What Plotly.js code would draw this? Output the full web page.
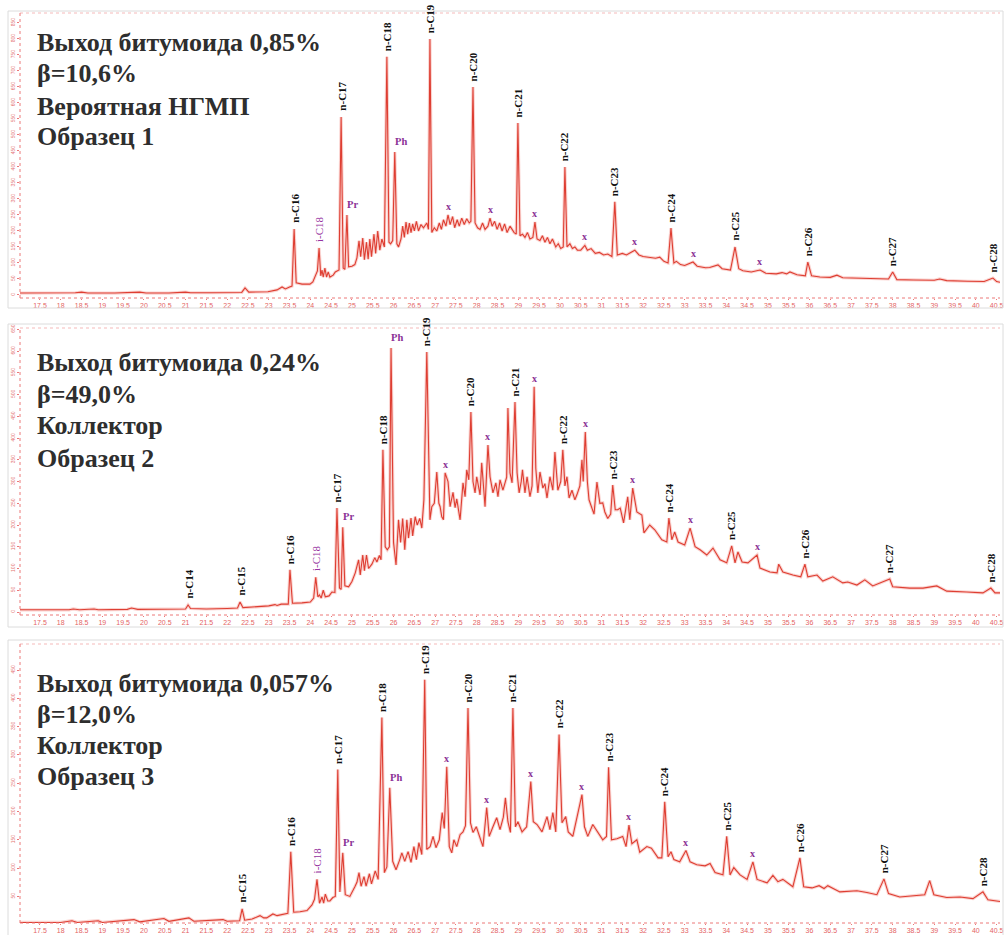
<!DOCTYPE html>
<html><head><meta charset="utf-8">
<script src="https://cdn.plot.ly/plotly-3.0.1.min.js"></script>
<style>body{margin:0;background:#fff}#chart{width:1006px;height:935px}</style>
</head><body><div id="chart"></div>
<script>
// ---------- DATA (retention time, min ; detector signal) ----------
const t1 = [17.02,17.8,18.35,18.5,18.65,19.3,19.9,20.05,20.6,21.0,21.12,21.6,22.0,22.35,22.43,22.52,22.98,23.2,23.32,23.4,23.5,23.56,23.61,23.66,23.8,23.99,24.06,24.11,24.17,24.21,24.25,24.28,24.31,24.35,24.39,24.43,24.47,24.55,24.6,24.69,24.74,24.79,24.83,24.88,24.92,25.0,25.07,25.12,25.17,25.21,25.26,25.3,25.35,25.39,25.43,25.47,25.53,25.57,25.62,25.67,25.72,25.78,25.84,25.89,25.93,25.98,26.03,26.08,26.12,26.18,26.22,26.26,26.3,26.34,26.38,26.42,26.46,26.5,26.55,26.6,26.66,26.72,26.8,26.84,26.875,26.92,26.98,27.04,27.1,27.15,27.2,27.26,27.31,27.36,27.42,27.47,27.53,27.58,27.64,27.7,27.76,27.82,27.86,27.91,27.96,28.02,28.08,28.14,28.2,28.27,28.32,28.37,28.43,28.49,28.55,28.61,28.67,28.73,28.8,28.9,28.95,28.99,29.04,29.1,29.16,29.22,29.28,29.35,29.4,29.45,29.52,29.58,29.64,29.7,29.76,29.82,29.9,29.96,30.02,30.08,30.12,30.17,30.24,30.3,30.36,30.42,30.5,30.6,30.66,30.75,30.85,30.95,31.05,31.15,31.25,31.32,31.38,31.5,31.6,31.8,31.9,32.0,32.1,32.3,32.4,32.5,32.6,32.67,32.74,32.8,32.9,33.0,33.2,33.3,33.5,33.6,33.8,33.9,34.1,34.21,34.3,34.4,34.6,34.81,34.95,35.2,35.34,35.45,35.53,35.7,35.9,35.96,36.05,36.25,36.5,36.66,36.8,37.2,37.6,37.9,38.0,38.1,38.5,39.0,39.13,39.3,39.8,40.2,40.41,40.5,40.58];
const v1 = [6,6,7,9,6,6,9,6,6,9,7,7,8,8,22,9,10,16,25,19,25,28,206,38,34,34,41,56,75,147,60,78,56,84,56,72,56,62,72,78,556,84,80,250,88,90,95,116,169,120,178,110,165,112,175,120,190,130,200,140,175,150,744,165,160,170,447,160,150,175,215,180,228,190,225,195,222,200,230,200,220,210,225,205,800,195,210,200,225,205,235,215,250,220,245,210,235,215,240,220,238,225,230,650,225,210,205,225,205,215,240,215,230,205,225,200,222,195,215,195,190,537,185,190,180,195,175,180,228,175,170,185,165,180,160,175,150,160,145,150,400,150,160,145,150,140,140,155,140,145,130,133,125,128,120,291,125,130,125,140,125,120,118,115,118,105,100,209,100,105,95,92,103,90,85,86,94,82,78,150,82,76,72,78,68,66,70,66,72,63,60,103,60,56,55,62,54,52,51,50,72,48,47,46,50,45,43,42,53,42,40];

const t2 = [17.02,18.2,18.3,18.45,18.8,18.9,19.6,19.7,19.85,20.5,21.0,21.06,21.12,21.5,21.9,22.0,22.25,22.31,22.38,22.6,22.8,23.0,23.15,23.2,23.3,23.4,23.47,23.51,23.57,23.8,24.0,24.08,24.13,24.18,24.22,24.26,24.31,24.36,24.45,24.52,24.59,24.64,24.7,24.74,24.78,24.83,24.92,25.0,25.08,25.16,25.2,25.26,25.3,25.35,25.4,25.48,25.55,25.6,25.66,25.7,25.745,25.8,25.85,25.9,25.94,26.0,26.06,26.12,26.17,26.22,26.27,26.32,26.36,26.42,26.46,26.52,26.57,26.63,26.68,26.73,26.8,26.875,26.92,26.98,27.04,27.09,27.12,27.16,27.2,27.24,27.31,27.36,27.43,27.48,27.52,27.6,27.67,27.72,27.76,27.81,27.86,27.91,27.96,28.0,28.08,28.12,28.17,28.2,28.27,28.32,28.39,28.46,28.51,28.56,28.63,28.68,28.72,28.75,28.8,28.85,28.92,28.97,29.02,29.07,29.1,29.16,29.21,29.28,29.33,29.38,29.42,29.47,29.52,29.59,29.64,29.69,29.76,29.83,29.88,29.95,30.02,30.07,30.12,30.17,30.22,30.29,30.36,30.41,30.48,30.53,30.56,30.61,30.66,30.7,30.75,30.82,30.89,30.96,31.03,31.08,31.15,31.22,31.27,31.33,31.39,31.45,31.53,31.63,31.68,31.75,31.85,31.97,32.02,32.16,32.28,32.45,32.57,32.62,32.69,32.76,32.84,33.0,33.13,33.25,33.37,33.53,33.68,33.85,34.01,34.13,34.21,34.28,34.38,34.52,34.74,34.81,35.05,35.22,35.26,35.36,35.6,35.79,35.89,35.96,36.18,36.32,36.56,36.8,36.92,37.14,37.33,37.52,37.93,38.0,38.41,38.73,39.06,39.3,39.78,40.17,40.36,40.46,40.58];
const v2 = [5,5,7,5,7,5,6,9,6,6,7,16,8,7,9,8,9,23,10,11,12,14,17,15,18,17,18,97,20,21,23,32,80,35,39,32,50,35,37,46,45,239,55,52,195,60,58,70,90,120,85,131,95,131,100,110,125,115,130,120,373,150,143,150,607,160,108,212,160,215,143,212,170,216,175,219,200,215,193,258,598,212,242,250,322,250,242,219,212,320,300,242,275,240,260,212,297,265,327,304,460,300,274,311,269,343,280,242,384,311,274,297,265,304,280,295,310,469,320,297,483,320,274,300,327,274,311,265,290,518,330,274,322,285,295,262,311,280,368,280,300,373,290,311,262,280,258,270,290,350,300,414,300,258,242,225,299,250,251,230,215,225,292,235,235,239,205,265,212,285,230,223,182,200,189,166,161,216,166,184,161,154,193,150,143,131,147,120,113,152,113,138,115,113,131,101,92,90,110,92,85,81,110,81,85,71,81,67,69,62,74,60,76,58,55,55,60,48,46,44,55,44,44];

const t3 = [17.02,18.0,18.27,18.4,18.9,19.0,19.76,19.9,20.48,20.6,21.08,21.2,21.9,22.0,22.3,22.36,22.42,22.6,22.79,22.88,22.95,23.1,23.2,23.34,23.46,23.53,23.6,23.75,23.92,24.04,24.1,24.16,24.22,24.28,24.32,24.36,24.42,24.47,24.54,24.6,24.66,24.71,24.78,24.84,24.95,25.07,25.12,25.17,25.22,25.29,25.34,25.42,25.47,25.56,25.63,25.72,25.78,25.84,25.91,25.98,26.06,26.15,26.2,26.27,26.35,26.42,26.49,26.55,26.61,26.68,26.75,26.8,26.88,26.95,27.02,27.1,27.17,27.22,27.28,27.34,27.4,27.45,27.52,27.6,27.67,27.73,27.79,27.85,27.91,27.99,28.07,28.15,28.24,28.3,28.39,28.48,28.56,28.64,28.69,28.75,28.81,28.87,28.93,28.99,29.09,29.2,29.3,29.36,29.45,29.57,29.69,29.76,29.83,29.9,29.98,30.05,30.14,30.2,30.31,30.43,30.53,30.59,30.67,30.79,30.91,31.03,31.12,31.17,31.24,31.37,31.51,31.59,31.66,31.73,31.85,31.92,32.09,32.2,32.36,32.45,32.52,32.6,32.67,32.74,32.88,33.03,33.13,33.29,33.49,33.61,33.73,33.92,34.01,34.09,34.18,34.33,34.5,34.64,34.74,34.98,35.12,35.24,35.36,35.6,35.77,35.86,36.06,36.23,36.35,36.44,36.73,37.14,37.38,37.62,37.79,37.9,38.17,38.58,38.77,38.89,38.99,39.3,39.62,39.93,40.17,40.29,40.58];
const v3 = [4,4,7,4,7,4,9,5,11,6,12,6,9,6,7,28,8,10,16,12,12,19,16,18,20,129,22,23,25,35,45,80,38,49,38,54,42,42,48,50,274,58,127,53,50,67,75,92,68,85,68,90,72,95,80,366,92,102,242,112,97,115,127,112,129,110,138,115,145,124,433,133,138,156,136,150,198,170,279,138,127,150,138,159,164,175,383,180,163,173,156,138,207,156,173,189,168,190,224,182,163,383,173,182,164,173,253,182,177,164,191,168,198,164,336,180,191,164,156,198,230,173,156,177,163,150,156,278,150,152,156,138,176,143,150,128,138,135,118,118,217,120,129,115,111,131,111,106,104,108,92,88,156,88,101,88,80,111,80,74,87,76,80,67,118,67,65,69,64,69,58,60,57,53,81,55,49,51,53,78,53,48,49,46,58,44,41];

// peak identifications (name, retention time)
const lab1 = ['n-C16','i-C18','n-C17','Pr','n-C18','Ph','n-C19','x','n-C20','x','n-C21','x','n-C22','x','n-C23','x','n-C24','x','n-C25','x','n-C26','n-C27','n-C28'];
const rt1  = [23.61,24.21,24.74,24.88,25.84,26.03,26.875,27.31,27.91,28.32,28.99,29.4,30.12,30.6,31.32,31.8,32.67,33.2,34.21,34.81,35.96,38.0,40.41];
const lab2 = ['n-C14','n-C15','n-C16','i-C18','n-C17','Pr','n-C18','Ph','n-C19','x','n-C20','x','n-C21','x','n-C22','x','n-C23','x','n-C24','x','n-C25','x','n-C26','n-C27','n-C28'];
const rt2  = [21.06,22.31,23.51,24.13,24.64,24.78,25.745,25.94,26.8,27.24,27.86,28.27,28.92,29.38,30.07,30.61,31.27,31.75,32.62,33.13,34.13,34.74,35.89,37.93,40.36];
const lab3 = ['n-C15','n-C16','i-C18','n-C17','Pr','n-C18','Ph','n-C19','x','n-C20','x','n-C21','x','n-C22','x','n-C23','x','n-C24','x','n-C25','x','n-C26','n-C27','n-C28'];
const rt3  = [22.36,23.53,24.16,24.66,24.78,25.72,25.91,26.75,27.28,27.79,28.24,28.87,29.3,29.98,30.53,31.17,31.66,32.52,33.03,34.01,34.64,35.77,37.79,40.17];

const info1 = ['Выход битумоида 0,85%','β=10,6%','Вероятная НГМП','Образец 1'];
const info2 = ['Выход битумоида 0,24%','β=49,0%','Коллектор','Образец 2'];
const info3 = ['Выход битумоида 0,057%','β=12,0%','Коллектор','Образец 3'];

// ---------- LAYOUT ----------
const W = 1006, H = 935;
const px = x => x / W, py = y => 1 - y / H;
const panels = [
  {t:t1, v:v1, lab:lab1, rt:rt1, info:info1, top:13, bot:298, rng:[-9.4,881], box:[8,11,1003,308], lines:[42,74,106,137]},
  {t:t2, v:v2, lab:lab2, rt:rt2, info:info2, top:328, bot:615, rng:[-6.9,653], box:[8,324,1003,627], lines:[362,394,426,458]},
  {t:t3, v:v3, lab:lab3, rt:rt3, info:info3, top:644, bot:923, rng:[3,496], box:[8,640,1003,936], lines:[683,714,745,776]}
];
const xl = 20, xr = 1000;
const axisCol = 'rgb(236,120,120)';
const traces = [], annotations = [], shapes = [];
const layout = {width:W, height:H, margin:{l:0,r:0,t:0,b:0}, showlegend:false,
  paper_bgcolor:'#fff', plot_bgcolor:'rgba(0,0,0,0)', hovermode:false};

function nearest(ts, vs, t){ let b=0; for(let i=1;i<ts.length;i++) if(Math.abs(ts[i]-t)<Math.abs(ts[b]-t)) b=i; return vs[b]; }

panels.forEach((p, i) => {
  const n = i === 0 ? '' : String(i+1);
  const xa = 'x'+n, ya = 'y'+n;
  layout['xaxis'+n] = {domain:[px(xl), px(xr)], range:[17.02,40.58], anchor:ya,
    tick0:17.5, dtick:0.5, showgrid:false, zeroline:false, showline:false,
    ticks:'outside', ticklen:1, tickcolor:axisCol, tickfont:{family:'Liberation Sans', size:7, color:'rgb(228,100,100)'}};
  layout['yaxis'+n] = {domain:[py(p.bot), py(p.top)], range:p.rng, anchor:xa,
    tick0:0, dtick:50, showgrid:false, zeroline:false, showline:false,
    ticks:'outside', ticklen:2, tickcolor:axisCol, tickangle:-90,
    tickfont:{family:'Liberation Sans', size:5, color:'rgb(228,115,115)'}};
  traces.push({x:p.t, y:p.v, xaxis:xa, yaxis:ya, mode:'lines', line:{color:'rgba(240,130,120,0.35)', width:3.2}});
  traces.push({x:p.t, y:p.v, xaxis:xa, yaxis:ya, mode:'lines', line:{color:'rgb(222,62,50)', width:1.1}});
  // frame and dotted axes
  shapes.push({type:'rect', xref:'paper', yref:'paper', x0:px(p.box[0]), x1:px(p.box[2]), y0:py(p.box[3]), y1:py(p.box[1]), line:{color:'#dcdcdc', width:1}});
  shapes.push({type:'line', xref:'paper', yref:'paper', x0:px(xl), x1:px(xr), y0:py(p.bot), y1:py(p.bot), line:{color:axisCol, width:1, dash:'dot'}});
  shapes.push({type:'line', xref:'paper', yref:'paper', x0:px(xl), x1:px(xr), y0:py(p.top), y1:py(p.top), line:{color:'rgb(245,185,185)', width:1, dash:'dot'}});
  shapes.push({type:'line', xref:'paper', yref:'paper', x0:px(xl), x1:px(xl), y0:py(p.bot), y1:py(p.top), line:{color:axisCol, width:1, dash:'dot'}});
  // peak labels
  p.lab.forEach((name, k) => {
    const t = p.rt[k], v = nearest(p.t, p.v, t);
    const a = {x:t, y:v, xref:xa, yref:ya, showarrow:false, yanchor:'bottom'};
    if (name.startsWith('n-')) {
      Object.assign(a, {text:'<b>'+name+'</b>', textangle:-90, xanchor:'center', yshift:4,
        font:{family:'Liberation Serif', size:11, color:'#111'}});
    } else if (name === 'i-C18') {
      Object.assign(a, {text:name, textangle:-90, xanchor:'center', yshift:4,
        font:{family:'Liberation Serif', size:11, color:'rgb(150,50,160)'}});
    } else if (name === 'x') {
      Object.assign(a, {text:'<b>x</b>', xanchor:'center', yshift:1,
        font:{family:'Liberation Serif', size:10, color:'rgb(140,50,150)'}});
    } else {
      Object.assign(a, {text:'<b>'+name+'</b>', xanchor:'left', xshift:-2, yshift:3,
        font:{family:'Liberation Serif', size:10.5, color:'rgb(140,50,150)'}});
    }
    annotations.push(a);
  });
  p.info.forEach((line, k) => {
    annotations.push({xref:'paper', yref:'paper', x:px(35), y:py(p.lines[k]), xanchor:'left', yanchor:'middle', align:'left',
      showarrow:false, text:'<b>'+line+'</b>',
      font:{family:'Liberation Serif', size:26, color:'#2e2e2e'}});
  });
});
layout.annotations = annotations;
layout.shapes = shapes;
Plotly.newPlot('chart', traces, layout, {staticPlot:true, displayModeBar:false});
</script>
</body></html>
